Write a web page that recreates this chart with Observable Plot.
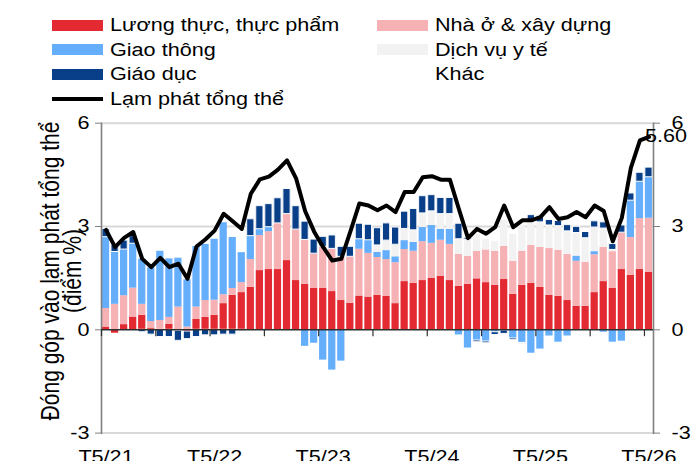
<!DOCTYPE html>
<html><head><meta charset="utf-8">
<script src="https://cdn.jsdelivr.net/npm/d3@7"></script>
<script src="https://cdn.jsdelivr.net/npm/@observablehq/plot@0.6"></script>
<style>
html,body{margin:0;padding:0;background:#fff;}
#wrap{position:relative;width:692px;height:461px;overflow:hidden;font-family:"Liberation Sans",Arial,sans-serif;}
#chart{position:absolute;left:0;top:0;}
.topline{position:absolute;left:10px;top:4px;width:682px;height:2px;background:#3d6a96;}
.lg{position:absolute;height:24px;display:flex;align-items:center;}
.sw{width:51px;height:11px;flex:none;}
.sw.ln{height:4px;background:#000;}
.lbl{display:inline-block;font-size:18px;transform:scaleX(1.2);transform-origin:left center;margin-left:7px;white-space:nowrap;color:#000;line-height:1;}
</style></head>
<body>
<div id="wrap">
  <div class="topline"></div>
  <div id="chart"></div>
  <div id="legend"></div>
</div>
<script>
const months = ["T5/21","T6/21","T7/21","T8/21","T9/21","T10/21","T11/21","T12/21",
"T1/22","T2/22","T3/22","T4/22","T5/22","T6/22","T7/22","T8/22","T9/22","T10/22","T11/22","T12/22",
"T1/23","T2/23","T3/23","T4/23","T5/23","T6/23","T7/23","T8/23","T9/23","T10/23","T11/23","T12/23",
"T1/24","T2/24","T3/24","T4/24","T5/24","T6/24","T7/24","T8/24","T9/24","T10/24","T11/24","T12/24",
"T1/25","T2/25","T3/25","T4/25","T5/25","T6/25","T7/25","T8/25","T9/25","T10/25","T11/25","T12/25",
"T1/26","T2/26","T3/26","T4/26","T5/26"];

const food = [0.08,-0.1,0.15,0.37,0.42,0.05,0.02,0.16,-0.03,-0.05,
0.3,0.36,0.42,0.76,1.0,1.08,1.23,1.72,1.75,1.75,
2.01,1.43,1.32,1.21,1.21,1.11,0.85,0.77,0.98,0.95,
1.0,0.97,0.76,1.4,1.35,1.43,1.49,1.55,1.43,1.26,
1.32,1.48,1.37,1.29,1.46,1.03,1.29,1.35,1.23,1.0,
0.97,0.85,0.68,0.68,1.08,1.4,1.2,1.75,1.58,1.75,1.67];

const housing = [0.54,0.74,0.84,0.84,0.32,0.19,0.25,0.2,0.66,0.08,
0.36,0.49,0.44,0.26,0.2,0.29,0.81,1.02,1.1,1.34,
1.35,1.48,1.29,1.0,1.2,1.24,1.27,1.35,1.36,1.27,
1.1,1.07,1.19,0.93,0.93,1.13,1.02,1.05,1.05,0.93,
0.81,0.8,0.95,0.99,0.96,0.96,0.99,1.1,1.16,1.36,
1.34,1.34,1.31,1.28,1.1,0.99,1.07,1.07,1.1,1.48,1.57];

const transport = [2.07,1.52,1.34,1.29,1.31,1.56,2.01,1.7,1.42,1.37,
1.76,1.63,1.77,2.09,1.48,0.87,0.68,0.18,0.13,0,
0,0,-0.48,-0.39,-0.88,-1.17,-0.91,0,0.29,0.38,
0.15,0.26,0.17,0.26,0.26,0.41,0.52,0.32,0.44,-0.15,
-0.53,-0.31,-0.34,-0.07,-0.02,-0.25,-0.38,-0.68,-0.56,-0.18,
-0.36,-0.18,0.15,0,0.09,-0.07,-0.36,-0.33,1.07,1.07,1.19];

const health = [0,0,0,0,0,0,0,0,0,0,
0,0,0,0,0,0,0,0,0,0,
0,0,0,0,0,0,0,0,0,0,
0.2,0.29,0.35,0.34,0.35,0.41,0.41,0.44,0.44,0.44,
0.48,0.5,0.3,0.29,0.76,0.78,0.76,0.68,0.73,0.67,
0.7,0.67,0.67,0.7,0.7,0.55,0.05,0,0,0,0];

const education = [0.24,0.2,0.26,0.22,-0.07,-0.14,-0.21,-0.21,-0.29,-0.22,
-0.21,-0.16,-0.16,-0.14,-0.14,-0.03,0.49,0.67,0.67,0.73,
0.73,0.68,0.53,0.41,0.29,0.39,0.29,0.29,0.45,0.45,
0.5,0.5,0.5,0.5,0.62,0.5,0.47,0.47,0.47,0.45,
0.05,-0.05,-0.05,-0.08,-0.1,-0.05,-0.03,0.2,0.18,0.16,
0.15,0.18,0.18,0.18,0.18,0.18,0.17,0.21,0.21,0.26,0.28];

const headline = [2.9,2.4,2.67,2.84,2.06,1.82,2.09,1.82,1.92,1.48,
2.42,2.63,2.88,3.37,3.15,2.93,3.95,4.37,4.45,4.65,
4.92,4.4,3.45,2.85,2.4,2.01,2.06,2.85,3.67,3.61,
3.47,3.61,3.42,4.0,4.0,4.43,4.46,4.36,4.36,3.5,
2.66,2.93,2.79,2.98,3.61,2.98,3.18,3.18,3.27,3.56,
3.22,3.27,3.42,3.27,3.61,3.45,2.57,3.25,4.7,5.5,5.6];

const seriesNames = ["Lương thực, thực phẩm","Nhà ở & xây dựng","Giao thông","Dịch vụ y tế","Giáo dục"];
const seriesColors = ["#e32a32","#f5b1b4","#65aefc","#f2f2f2","#083f88"];
const seriesValues = [food, housing, transport, health, education];
const otherName = "Khác";
const lineName = "Lạm phát tổng thể";
const xTickLabels = ["T5/21","T5/22","T5/23","T5/24","T5/25","T5/26"];
const yTicks = [-3, 0, 3, 6];
const yTitle = ["Đóng góp vào lạm phát tổng thể", "(điểm %)"];
const lastLabel = "5.60";

// table built from arrays
const rows = [];
months.forEach((m, i) => seriesNames.forEach((s, k) =>
  rows.push({p: i, month: m, series: s, value: seriesValues[k][i]})));
const lineData = months.map((m, i) => ({p: i, month: m, v: headline[i]}));
const labelPos = xTickLabels.map(l => months.indexOf(l));
const boundaryTicks = months.map((m, i) => i).filter(i => i % 6 === 0);

const stackOpts = {x1: d => d.p - 0.5, x2: d => d.p + 0.5, y: "value", fill: "series", insetLeft: 0.9, insetRight: 0.9};

const plot = Plot.plot({
  width: 692, height: 461,
  marginLeft: 101, marginRight: 39, marginTop: 122.7, marginBottom: 28.4,
  style: {fontFamily: "'Liberation Sans', Arial, sans-serif", fontSize: "18px", color: "#000", background: "#fff"},
  x: {domain: [-0.5, months.length - 0.5], axis: null},
  y: {domain: [-3, 6], axis: null},
  color: {domain: seriesNames, range: seriesColors},
  marks: [
    Plot.gridY([-3, 3, 6], {stroke: "#d9d9d9", strokeWidth: 2, strokeOpacity: 1}),
    Plot.rectY(rows, Plot.stackY(stackOpts)),
    Plot.rectY(rows, Plot.filter(d => d.series === "Giáo dục", Plot.stackY({...stackOpts, stroke: "white", strokeWidth: 1}))),
    Plot.frame({anchor: "left", stroke: "#808080", strokeWidth: 1.6}),
    Plot.frame({anchor: "right", stroke: "#808080", strokeWidth: 1.6}),
    Plot.ruleY([0], {stroke: "#303030", strokeWidth: 1.5}),
    Plot.ruleX(boundaryTicks, {x: d => d - 0.5, y1: 0, y2: -0.2, stroke: "#303030", strokeWidth: 1.2}),
    Plot.axisY({ticks: yTicks, anchor: "left", tickSize: 6, tickPadding: 6, fontSize: 18, stroke: "#808080", fill: "#000", tickFormat: d => String(d), label: null}),
    Plot.axisY({ticks: yTicks, anchor: "right", tickSize: 6, tickPadding: 12, fontSize: 18, stroke: "#808080", fill: "#000", tickFormat: d => String(d), label: null}),
    Plot.axisX({ticks: labelPos, anchor: "bottom", tickSize: 0, tickPadding: 17, fontSize: 18, fill: "#000", tickFormat: i => months[i], label: null}),
    Plot.line(lineData, {x: "p", y: "v", stroke: "#000", strokeWidth: 4, strokeLinejoin: "round"}),
    Plot.text([lineData[lineData.length - 1]], {x: "p", y: "v", text: () => lastLabel, textAnchor: "start", dx: -4, dy: -1, fontSize: 18, fill: "#000"})
  ]
});
document.getElementById("chart").appendChild(plot);

// horizontal stretch of text, as in the reference picture
const S = 1.2;
plot.querySelectorAll("text").forEach(t => {
  const b = t.getBBox();
  const anchor = getComputedStyle(t).textAnchor;
  const ax = anchor === "end" ? b.x + b.width : anchor === "middle" ? b.x + b.width / 2 : b.x;
  const old = t.getAttribute("transform") || "";
  t.setAttribute("transform", `${old} translate(${ax},0) scale(${S},1) translate(${-ax},0)`);
});

// y-axis title
const svg = d3.select(plot);
const titleX = [50, 72];
yTitle.forEach((line, k) => {
  svg.append("text")
    .attr("transform", `translate(${titleX[k]},271) rotate(-90) scale(1,${S})`)
    .attr("text-anchor", "middle")
    .attr("dy", "0.35em")
    .style("font-size", "21px")
    .style("font-family", "'Liberation Sans', Arial, sans-serif")
    .attr("fill", "#000")
    .text(line);
});

// legend
const legendItems = [
  {name: seriesNames[0], color: seriesColors[0], x: 52, y: 25},
  {name: seriesNames[2], color: seriesColors[2], x: 52, y: 49.5},
  {name: seriesNames[4], color: seriesColors[4], x: 52, y: 74},
  {name: lineName, line: true, x: 52, y: 98.5},
  {name: seriesNames[1], color: seriesColors[1], x: 377, y: 25},
  {name: seriesNames[3], color: seriesColors[3], x: 377, y: 49.5},
  {name: otherName, color: "transparent", x: 377, y: 74}
];
const lg = document.getElementById("legend");
legendItems.forEach(it => {
  const d = document.createElement("div");
  d.className = "lg";
  d.style.left = it.x + "px";
  d.style.top = (it.y - 12) + "px";
  const sw = document.createElement("span");
  sw.className = "sw" + (it.line ? " ln" : "");
  if (!it.line) sw.style.background = it.color;
  const tx = document.createElement("span");
  tx.className = "lbl";
  tx.textContent = it.name;
  d.appendChild(sw); d.appendChild(tx);
  lg.appendChild(d);
});
</script>
</body></html>
